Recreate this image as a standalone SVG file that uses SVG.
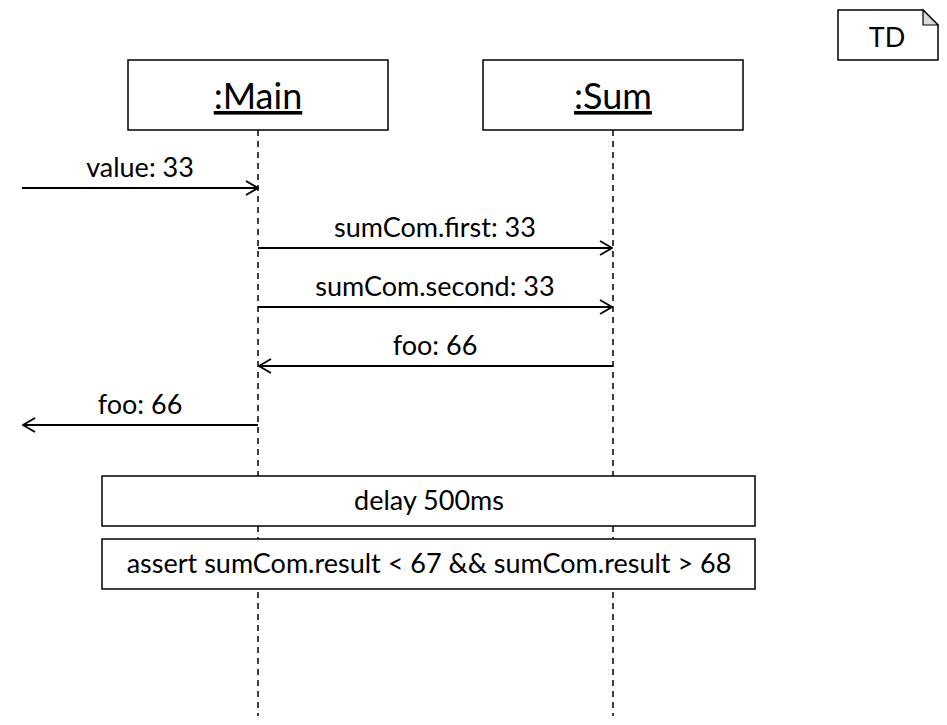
<svg xmlns="http://www.w3.org/2000/svg" width="947" height="725" viewBox="0 0 947 725">
<defs>
<marker id="open" viewBox="0 0 14 16" refX="13" refY="8" markerWidth="14" markerHeight="16" markerUnits="userSpaceOnUse" orient="auto">
<path d="M1,1 L13,8 L1,15" fill="none" stroke="#000" stroke-width="1.8"/>
</marker>
<style>
text{font-family:Lato,"Open Sans",sans-serif;fill:#000;}
.box{fill:#fff;stroke:#000;stroke-width:1.5;}
.life{stroke:#000;stroke-width:1.5;stroke-dasharray:6 5;fill:none;}
.msg{stroke:#000;stroke-width:1.8;fill:none;marker-end:url(#open);}
.lbl{font-size:27px;text-anchor:middle;}
.title{font-size:36px;text-anchor:middle;text-decoration:underline;}
</style>
</defs>
<rect width="947" height="725" fill="#fff"/>
<g id="lifelines">
<line class="life" x1="258" y1="130" x2="258" y2="716"/>
<line class="life" x1="613" y1="130" x2="613" y2="716"/>
</g>
<g id="td">
<path class="box" d="M838,10 H923 L938,25 V60 H838 Z"/>
<path d="M923,10 L938,25 H923 Z" fill="#d9d9d9" stroke="#000" stroke-width="1.2"/>
<text x="887" y="47" style="font-size:27px;text-anchor:middle">TD</text>
</g>
<g id="main">
<rect class="box" x="128" y="60" width="260" height="70"/>
<text class="title" x="258" y="109">:Main</text>
</g>
<g id="sum">
<rect class="box" x="483" y="60" width="260" height="70"/>
<text class="title" x="613" y="109">:Sum</text>
</g>
<g id="connectors">
<line class="msg" x1="22" y1="188" x2="258" y2="188"/>
<line class="msg" x1="258" y1="248" x2="612" y2="248"/>
<line class="msg" x1="258" y1="307" x2="612" y2="307"/>
<line class="msg" x1="613" y1="366" x2="259" y2="366"/>
<line class="msg" x1="258" y1="425" x2="23" y2="425"/>
</g>
<g id="labels">
<text class="lbl" x="140" y="177">value: 33</text>
<text class="lbl" x="435" y="237">sumCom.first: 33</text>
<text class="lbl" x="435" y="296">sumCom.second: 33</text>
<text class="lbl" x="435" y="355">foo: 66</text>
<text class="lbl" x="140" y="414">foo: 66</text>
</g>
<g id="delay">
<rect class="box" x="102" y="476" width="653" height="50"/>
<text class="lbl" x="429" y="510">delay 500ms</text>
</g>
<g id="assert">
<rect class="box" x="102" y="539" width="653" height="50"/>
<text class="lbl" x="429" y="573">assert sumCom.result &lt; 67 &amp;&amp; sumCom.result &gt; 68</text>
</g>
</svg>
